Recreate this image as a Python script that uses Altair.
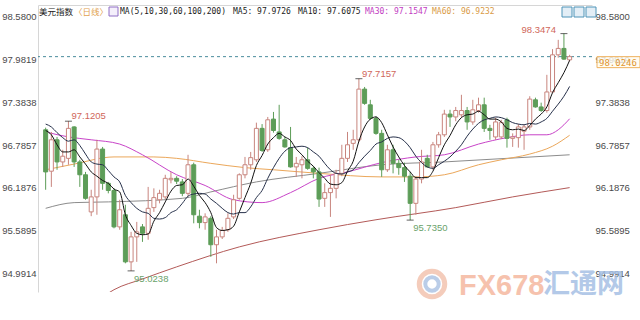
import altair as alt
import pandas as pd

# ---------------- data ----------------
idx = list(range(93))
opens = [97.00, 96.42, 96.86, 96.55, 96.60, 97.04, 96.55, 96.37, 95.85, 96.06,
         96.73, 96.25, 96.15, 95.64, 95.81, 95.15, 95.50, 95.64, 95.55, 95.91,
         96.02, 96.06, 96.30, 96.32, 96.27, 96.11, 96.51, 95.79, 95.70, 95.76,
         95.39, 95.50, 95.60, 95.78, 96.04, 96.37, 96.51, 96.58, 97.02, 96.72,
         97.15, 96.97, 96.86, 96.75, 96.48, 96.51, 96.58, 96.46, 96.41, 96.04,
         96.12, 96.18, 96.39, 96.60, 96.81, 96.86, 97.57, 97.35, 97.16, 96.95,
         96.44, 96.72, 96.53, 96.47, 96.35, 95.97, 96.31, 96.60, 96.48, 96.79,
         96.93, 97.22, 97.18, 97.21, 97.27, 97.11, 97.27, 97.35, 97.02, 96.90,
         96.90, 97.14, 96.88, 96.89, 96.98, 97.04, 97.42, 97.32, 97.27, 97.53,
         98.05, 98.14, 97.98]
closes = [96.41, 96.86, 96.55, 96.63, 97.02, 96.55, 96.37, 96.04, 96.06, 96.73,
          96.25, 96.15, 95.64, 95.88, 95.15, 95.50, 95.57, 95.55, 95.90, 96.05,
          96.11, 96.32, 96.32, 96.28, 96.11, 96.51, 95.81, 95.70, 95.78, 95.39,
          95.50, 95.59, 95.76, 96.02, 96.37, 96.51, 96.61, 97.02, 96.71, 97.14,
          96.99, 96.88, 96.76, 96.48, 96.53, 96.58, 96.46, 96.41, 96.03, 96.12,
          96.18, 96.39, 96.60, 96.79, 96.86, 97.57, 97.37, 97.16, 96.95, 96.44,
          96.72, 96.53, 96.47, 96.35, 95.97, 96.31, 96.55, 96.48, 96.79, 96.93,
          97.22, 97.18, 97.27, 97.27, 97.11, 97.28, 97.35, 97.02, 96.99, 97.11,
          97.10, 96.88, 96.90, 97.04, 97.04, 97.43, 97.32, 97.27, 97.53, 98.05,
          98.14, 97.99, 98.0246]
highs = [97.03, 96.97, 96.90, 96.72, 97.1205, 97.05, 96.58, 96.41, 96.16, 96.86,
         96.76, 96.27, 96.18, 96.02, 95.95, 95.57, 95.71, 95.68, 96.20, 96.18,
         96.16, 96.37, 96.41, 96.35, 96.31, 96.65, 96.54, 95.88, 95.83, 95.79,
         95.60, 95.64, 95.83, 96.09, 96.39, 96.62, 96.69, 97.10, 97.08, 97.18,
         97.25, 97.35, 96.90, 97.04, 96.62, 96.63, 96.75, 96.49, 96.47, 96.25,
         96.37, 96.44, 96.79, 96.97, 97.00, 97.7157, 97.60, 97.42, 97.19, 97.00,
         96.79, 96.79, 96.58, 96.54, 96.41, 96.35, 96.72, 96.65, 96.83, 96.97,
         97.28, 97.28, 97.32, 97.49, 97.32, 97.42, 97.45, 97.45, 97.07, 97.17,
         97.14, 97.17, 96.95, 97.08, 97.08, 97.47, 97.45, 97.38, 97.77, 98.13,
         98.26, 98.3474, 98.05]
lows = [96.16, 96.20, 96.44, 96.48, 96.51, 96.48, 96.20, 96.02, 95.79, 95.81,
        96.16, 96.11, 95.62, 95.60, 95.13, 95.0238, 95.15, 95.43, 95.46, 95.85,
        95.97, 96.03, 96.25, 96.24, 96.07, 96.07, 95.69, 95.62, 95.60, 95.22,
        95.13, 95.47, 95.57, 95.75, 96.02, 96.32, 96.44, 96.55, 96.69, 96.69,
        96.96, 96.86, 96.75, 96.47, 96.34, 96.32, 96.44, 96.32, 95.92, 95.92,
        95.78, 96.04, 96.35, 96.55, 96.72, 96.83, 97.35, 97.14, 96.93, 96.34,
        96.41, 96.39, 96.37, 96.27, 95.735, 95.81, 96.25, 96.47, 96.44, 96.75,
        96.90, 97.04, 97.12, 97.17, 97.00, 97.07, 97.24, 96.97, 96.86, 96.86,
        96.87, 96.75, 96.76, 96.75, 96.72, 97.00, 97.31, 97.25, 97.24, 97.52,
        98.01, 97.98, 97.96]

ma5 = [96.99, 96.93, 96.79, 96.69, 96.69, 96.72, 96.62, 96.52, 96.41, 96.35,
       96.29, 96.25, 96.17, 96.13, 95.81, 95.66, 95.55, 95.53, 95.54, 95.72,
       95.84, 95.99, 96.14, 96.22, 96.23, 96.31, 96.21, 96.08, 95.98, 95.84,
       95.63, 95.59, 95.60, 95.65, 95.85, 96.05, 96.25, 96.50, 96.64, 96.80,
       96.89, 96.95, 96.90, 96.85, 96.73, 96.65, 96.56, 96.49, 96.40, 96.32,
       96.24, 96.23, 96.26, 96.42, 96.56, 96.84, 97.04, 97.15, 97.18, 97.10,
       96.93, 96.76, 96.62, 96.50, 96.41, 96.33, 96.33, 96.33, 96.42, 96.61,
       96.79, 96.92, 97.07, 97.17, 97.21, 97.22, 97.26, 97.21, 97.15, 97.15,
       97.11, 97.02, 97.00, 97.01, 96.99, 97.06, 97.15, 97.22, 97.32, 97.52,
       97.66, 97.80, 97.9726]
ma10 = [97.08, 97.04, 96.96, 96.89, 96.84, 96.86, 96.78, 96.66, 96.55, 96.52,
        96.51, 96.43, 96.34, 96.27, 96.08, 95.98, 95.90, 95.85, 95.83, 95.76,
        95.75, 95.77, 95.84, 95.88, 95.97, 96.07, 96.10, 96.11, 96.10, 96.03,
        95.97, 95.90, 95.84, 95.82, 95.84, 95.84, 95.92, 96.05, 96.15, 96.32,
        96.47, 96.60, 96.70, 96.75, 96.76, 96.77, 96.75, 96.69, 96.63, 96.53,
        96.44, 96.39, 96.38, 96.41, 96.44, 96.54, 96.63, 96.71, 96.80, 96.83,
        96.88, 96.90, 96.89, 96.84, 96.75, 96.63, 96.54, 96.48, 96.46, 96.51,
        96.56, 96.62, 96.70, 96.79, 96.91, 97.01, 97.09, 97.14, 97.16, 97.18,
        97.17, 97.14, 97.10, 97.08, 97.07, 97.09, 97.08, 97.11, 97.16, 97.26,
        97.36, 97.47, 97.6075]
ma30_idx = [0, 4, 8, 13, 17, 23, 28, 33, 38, 43, 48, 53, 59, 65, 70, 76, 81, 85, 88, 90, 91, 92]
ma30_val = [96.97, 96.90, 96.86, 96.80, 96.65, 96.37, 96.22, 96.02, 95.98, 96.12, 96.32,
            96.41, 96.54, 96.62, 96.65, 96.80, 96.89, 96.93, 96.93, 97.00, 97.07, 97.1547]
ma60_idx = [0, 5, 12, 19, 23, 29, 35, 40, 48, 59, 65, 70, 76, 80, 85, 89, 92]
ma60_val = [96.44, 96.52, 96.62, 96.62, 96.60, 96.53, 96.47, 96.44, 96.39, 96.34,
            96.34, 96.37, 96.51, 96.58, 96.66, 96.77, 96.9232]
ma100_idx = [0, 5, 11, 24, 29, 37, 48, 59, 70, 81, 92]
ma100_val = [95.90, 95.98, 95.99, 96.04, 96.13, 96.27, 96.39, 96.51, 96.55, 96.60, 96.65]
ma200_idx = [10, 12, 17, 23, 34, 48, 58, 72, 82, 92]
ma200_val = [94.66, 94.76, 94.91, 95.08, 95.36, 95.60, 95.74, 95.91, 96.06, 96.19]

y_ticks = [98.58, 97.9819, 97.3838, 96.7857, 96.1876, 95.5895, 94.9914]
last_price = 98.0246
ann_idx = [4, 55, 91, 15, 64]
ann_val = [97.1205, 97.7157, 98.3474, 95.0238, 95.7350]
ann_kind = ["high", "high", "high_left", "low", "low"]

header_title = "美元指数"
header_period = "〈日线〉"
header_ma = "MA(5,10,30,60,100,200)"
header_vals = [("MA5: 97.9726", "#1a1a1a"), ("MA10: 97.6075", "#1a1a1a"),
               ("MA30: 97.1547", "#c23cc2"), ("MA60: 96.9232", "#d99a45")]

# ---------------- frames ----------------
candles = pd.DataFrame({"i": idx, "open": opens, "high": highs, "low": lows, "close": closes})
ann = pd.DataFrame({"i": ann_idx, "v": ann_val, "kind": ann_kind,
                    "label": [f"{v:.4f}" for v in ann_val]})

def ma_frame(ix, vals):
    return pd.DataFrame({"i": ix, "v": vals})

W, H = 554, 287
xs = alt.Scale(domain=[-0.466, 95.05], nice=False, zero=False)
ys = alt.Scale(domain=[94.728, 98.748], nice=False, zero=False)
xaxis = alt.Axis(orient="top", labels=False, ticks=False, grid=False,
                 domainColor="#d6d6d6", title=None)
X = alt.X("i:Q", scale=xs, axis=xaxis)

UP = "#c8857e"
DOWN = "#5d9d58"

left_axis = alt.Axis(orient="left", values=y_ticks, format=".4f", labelFont="Liberation Sans",
                     labelFontSize=9.5, labelColor="#4a4a4a", ticks=False, labelPadding=2,
                     domain=True, domainColor="#d6d6d6", grid=False, title=None)
right_axis = alt.Axis(orient="right", values=y_ticks, format=".4f", labelFont="Liberation Sans",
                      labelFontSize=9.5, labelColor="#4a4a4a", ticks=False, labelPadding=3,
                      domain=False, grid=False, title=None)

layers = []

# moving averages
ma_specs = [
    (ma200_idx, ma200_val, "#b35a58"),
    (ma100_idx, ma100_val, "#8c8c8c"),
    (ma60_idx, ma60_val, "#eba75a"),
    (ma30_idx, ma30_val, "#c844c8"),
]
for ix, vals, col in ma_specs:
    layers.append(alt.Chart(ma_frame(ix, vals)).mark_line(
        color=col, strokeWidth=1, interpolate="monotone", clip=True
    ).encode(x=X, y=alt.Y("v:Q", scale=ys, axis=None)))

# current price dashed line
layers.append(alt.Chart(pd.DataFrame({"a": [0]})).mark_rule(
    color="#4a8c9c", strokeDash=[3, 3], strokeWidth=1
).encode(y=alt.YDatum(last_price, axis=None)))

# candles
up = alt.Chart(candles).transform_filter("datum.close >= datum.open")
dn = alt.Chart(candles).transform_filter("datum.close < datum.open")
layers.append(up.mark_rule(color=UP, strokeWidth=1).encode(
    x=X, y=alt.Y("low:Q", scale=ys, axis=left_axis), y2="high:Q"))
layers.append(dn.mark_rule(color=DOWN, strokeWidth=1).encode(
    x=X, y=alt.Y("low:Q", scale=ys, axis=right_axis), y2="high:Q"))
layers.append(up.mark_bar(size=4, fill="#ffffff", stroke=UP, strokeWidth=1).encode(
    x=X, y=alt.Y("open:Q", scale=ys, axis=None), y2="close:Q"))
layers.append(dn.mark_bar(size=4, fill=DOWN, stroke=DOWN, strokeWidth=1).encode(
    x=X, y=alt.Y("open:Q", scale=ys, axis=None), y2="close:Q"))

# fast MAs on top
for vals, col in [(ma10, "#26304a"), (ma5, "#111111")]:
    layers.append(alt.Chart(ma_frame(idx, vals)).mark_line(
        color=col, strokeWidth=1, interpolate="monotone", clip=True
    ).encode(x=X, y=alt.Y("v:Q", scale=ys, axis=None)))

# extreme markers and labels
layers.append(alt.Chart(ann).mark_tick(orient="horizontal", size=7, thickness=1, color="#222").encode(
    x=X, y=alt.Y("v:Q", scale=ys, axis=None)))
lab_font = dict(font="Liberation Sans", fontSize=9.5)
layers.append(alt.Chart(ann).transform_filter("datum.kind == 'high'").mark_text(
    align="left", baseline="middle", dx=3, dy=-5, color="#d0675a", **lab_font
).encode(x=X, y=alt.Y("v:Q", scale=ys, axis=None), text="label:N"))
layers.append(alt.Chart(ann).transform_filter("datum.kind == 'high_left'").mark_text(
    align="right", baseline="middle", dx=-8, dy=-4, color="#d0675a", **lab_font
).encode(x=X, y=alt.Y("v:Q", scale=ys, axis=None), text="label:N"))
layers.append(alt.Chart(ann).transform_filter("datum.kind == 'low'").mark_text(
    align="left", baseline="middle", dx=3, dy=8, color="#6aa26a", **lab_font
).encode(x=X, y=alt.Y("v:Q", scale=ys, axis=None), text="label:N"))

one = pd.DataFrame({"a": [0]})

# price box on the right
layers.append(alt.Chart(one).mark_rect(
    fill="#fffbf0", fillOpacity=0.8, stroke="#efb25e", strokeWidth=1, y2Offset=11
).encode(x=alt.value(559), x2=alt.value(602),
         y=alt.YDatum(last_price, axis=None), y2=alt.Y2Datum(last_price)))
layers.append(alt.Chart(one).mark_text(
    text=f"{last_price:.4f}", align="left", baseline="middle", dy=6,
    font="DejaVu Sans Mono", fontSize=9, color="#e0962f"
).encode(x=alt.value(561), y=alt.YDatum(last_price, axis=None)))

# header
def txt(t, x, color, font, size, weight="normal"):
    return alt.Chart(one).mark_text(
        text=t, align="left", baseline="middle", font=font, fontSize=size,
        fontWeight=weight, color=color
    ).encode(x=alt.value(x), y=alt.value(6.5))

layers.append(txt(header_title, 1, "#1a1a1a", "Noto Sans CJK SC", 8.5))
layers.append(txt(header_period, 36, "#e2a24e", "Noto Sans CJK SC", 8.5))
layers.append(alt.Chart(one).mark_rect(fill="#f4effb", stroke="#8f6fc4", strokeWidth=1).encode(
    x=alt.value(71), x2=alt.value(80), y=alt.value(2), y2=alt.value(11)))
layers.append(txt(header_ma, 82, "#1a1a1a", "DejaVu Sans Mono", 8))
for (t, col), x in zip(header_vals, [195, 260, 327, 394]):
    layers.append(txt(t, x, col, "DejaVu Sans Mono", 8))

# toolbar buttons
for x0 in [524, 536, 548]:
    layers.append(alt.Chart(one).mark_rect(fill="#e3eef6", stroke="#4f94b8", strokeWidth=1).encode(
        x=alt.value(x0), x2=alt.value(x0 + 10), y=alt.value(2), y2=alt.value(12)))

# watermark
layers.append(alt.Chart(one).mark_point(shape="circle", size=650, filled=False,
                                        stroke="#f2c0ab", strokeWidth=5, opacity=0.8).encode(
    x=alt.value(394), y=alt.value(279)))
layers.append(alt.Chart(one).mark_point(shape="circle", size=180, filled=False,
                                        stroke="#a9c1e3", strokeWidth=4, opacity=0.8).encode(
    x=alt.value(394), y=alt.value(279)))
layers.append(alt.Chart(one).mark_text(
    text="FX678", align="left", baseline="middle", font="Liberation Sans",
    fontSize=29, fontWeight="bold", color="#f5b89f", opacity=0.85
).encode(x=alt.value(421), y=alt.value(281)))
layers.append(alt.Chart(one).mark_text(
    text="汇通网", align="left", baseline="middle", font="Noto Sans CJK SC",
    fontSize=27, fontWeight="bold", color="#a6c0e4", opacity=0.85
).encode(x=alt.value(505), y=alt.value(280)))

chart = alt.layer(*layers).resolve_axis(y="independent").properties(
    width=W, height=H,
    padding={"left": 38, "top": 5, "right": 48, "bottom": 28},
    autosize=alt.AutoSizeParams(type="none"),
    background="#ffffff",
).configure_view(stroke=None)

chart.save("out.html", embed_options={"renderer": "svg", "actions": False})
